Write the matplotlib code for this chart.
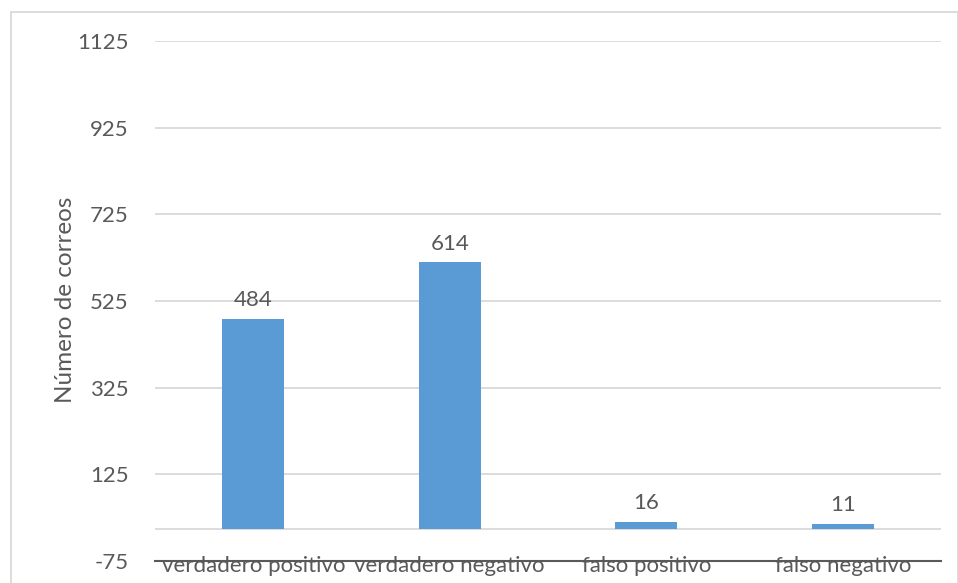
import matplotlib
matplotlib.use("Agg")
import matplotlib.pyplot as plt
from matplotlib.patches import Rectangle

categories = ["verdadero positivo", "verdadero negativo", "falso positivo", "falso negativo"]
values = [484, 614, 16, 11]
yticks = [-75, 125, 325, 525, 725, 925, 1125]

plt.rcParams['font.family'] = ['Lato', 'DejaVu Sans']
W, H = 958, 583
fig = plt.figure(figsize=(W/100, H/100), dpi=100)
ax = fig.add_axes([155/W, (H-561)/H, (941-155)/W, (561-41)/H])

text_c = '#595959'
grid_c = '#D9D9D9'
fs = 16
x = list(range(len(categories)))
bars = ax.bar(x, values, width=0.315, color='#5B9BD5', zorder=3)
ax.set_xlim(-0.5, len(categories)-0.5)
ax.set_ylim(-75, 1125)
ax.set_yticks(yticks)
ax.set_yticklabels([str(t) for t in yticks])
ax.set_xticks(x)
ax.set_xticklabels(categories)
ax.grid(axis='y', color=grid_c, linewidth=1.3, zorder=0)
ax.axhline(0, color=grid_c, linewidth=1.3, zorder=2)
for s in ['top', 'right', 'left']:
    ax.spines[s].set_visible(False)
ax.spines['bottom'].set_color(text_c)
ax.spines['bottom'].set_linewidth(1.5)
ax.spines['bottom'].set_zorder(5)
ax.tick_params(axis='y', length=0, pad=19, labelsize=fs, labelcolor=text_c)
ax.tick_params(axis='x', length=0, pad=-3.5, labelsize=fs, labelcolor=text_c)
for lab in ax.get_xticklabels():
    lab.set_zorder(1)
for xi, v in zip(x, values):
    ax.annotate(str(v), (xi, v), xytext=(0, 6), textcoords='offset points',
                ha='center', va='bottom', fontsize=fs, color=text_c)

fig.text(65/W, (H-300)/H, 'Número de correos', rotation=90, ha='center', va='center',
         fontsize=17.5, color=text_c)
fig.patches.append(Rectangle((10.5/W, -0.05), (957.5-10.5)/W, (H-11.5)/H + 0.05,
                             transform=fig.transFigure, fill=False,
                             edgecolor=grid_c, linewidth=1.3))
fig.savefig('out.png', dpi=100)
